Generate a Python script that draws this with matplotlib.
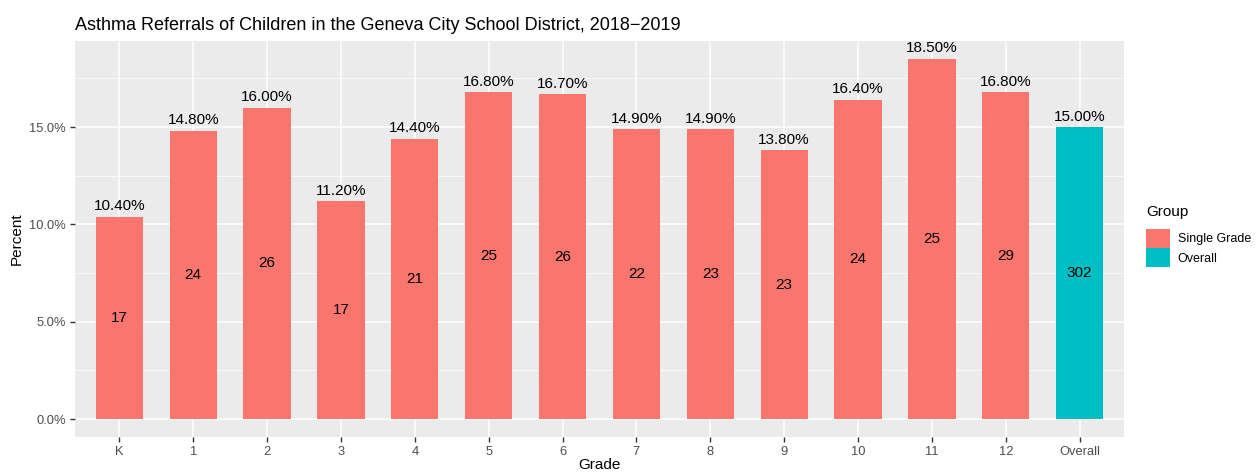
import matplotlib
matplotlib.use("Agg")
import matplotlib.pyplot as plt
import numpy as np
from matplotlib.patches import Patch
from matplotlib.ticker import MultipleLocator, FuncFormatter

plt.rcParams["font.family"] = ["Liberation Sans", "DejaVu Sans"]

grades = ["K", "1", "2", "3", "4", "5", "6", "7", "8", "9", "10", "11", "12", "Overall"]
percents = [10.4, 14.8, 16.0, 11.2, 14.4, 16.8, 16.7, 14.9, 14.9, 13.8, 16.4, 18.5, 16.8, 15.0]
counts = [17, 24, 26, 17, 21, 25, 26, 22, 23, 23, 24, 25, 29, 302]
groups = ["Single Grade"] * 13 + ["Overall"]
group_colors = {"Single Grade": "#F8766D", "Overall": "#00BFC4"}

fig = plt.figure(figsize=(12.6, 4.73), dpi=100)
ax = fig.add_axes([75 / 1260, 1 - 437 / 473, (1124 - 75) / 1260, (437 - 41) / 473])

x = np.arange(len(grades))
colors = [group_colors[g] for g in groups]
ax.bar(x, percents, width=0.64, color=colors, zorder=3)

for xi, p, c in zip(x, percents, counts):
    ax.text(xi, p + 0.18, f"{p:.2f}%", ha="center", va="bottom", fontsize=11, color="black", zorder=4)
    ax.text(xi, p / 2, str(c), ha="center", va="center", fontsize=11, color="black", zorder=4)

ymax = max(percents)
ax.set_ylim(-0.05 * ymax, ymax * 1.05)
ax.set_xlim(-0.6, len(grades) - 1 + 0.6)

ax.set_facecolor("#EBEBEB")
ax.yaxis.set_major_locator(MultipleLocator(5))
ax.yaxis.set_minor_locator(MultipleLocator(2.5))
ax.yaxis.set_major_formatter(FuncFormatter(lambda v, _: f"{v:.1f}%"))
ax.set_xticks(x)
ax.set_xticklabels(grades)
ax.grid(which="major", color="white", linewidth=1.1, zorder=0)
ax.grid(which="minor", axis="y", color="white", linewidth=0.5, zorder=0)
ax.set_axisbelow(True)
for s in ax.spines.values():
    s.set_visible(False)
ax.tick_params(which="major", length=3.5, color="#333333", labelsize=9.3, labelcolor="#4D4D4D", width=1, pad=3)
ax.tick_params(which="minor", length=0)

ax.set_xlabel("Grade", fontsize=11, labelpad=0)
ax.set_ylabel("Percent", fontsize=11, labelpad=4)
ax.set_title("Asthma Referrals of Children in the Geneva City School District, 2018\u22122019",
             fontsize=13, loc="left", pad=8)

handles = [Patch(facecolor=group_colors[g], label=g) for g in ["Single Grade", "Overall"]]
leg = fig.legend(handles=handles, title="Group", loc="upper left",
                 bbox_to_anchor=(1141 / 1260, 1 - 200 / 473), frameon=False,
                 fontsize=9, title_fontsize=11, handlelength=1.95, handleheight=1.95,
                 labelspacing=0.05, handletextpad=0.6, borderaxespad=0)
leg._legend_box.align = "left"
leg._legend_box.sep = 7

plt.savefig("out.png", dpi=100)
plt.close()
